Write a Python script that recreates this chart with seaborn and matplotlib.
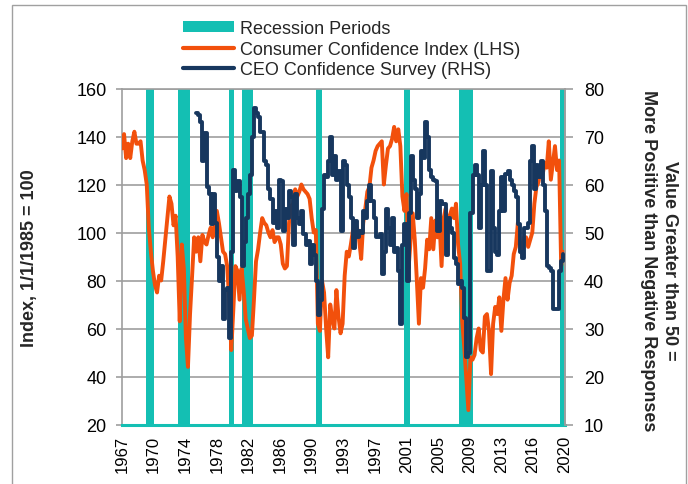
import numpy as np
import pandas as pd
import matplotlib
matplotlib.use("Agg")
import matplotlib.pyplot as plt
import seaborn as sns
from matplotlib.patches import Rectangle, Patch
from matplotlib.lines import Line2D

# ---------------- data ----------------
# Consumer Confidence Index (LHS), quarterly readings starting Q1 1967
cci = [
    135, 141, 131, 137,   # 1967
    131, 138, 142, 137,   # 1968
    137, 138, 130, 126,   # 1969
    120, 102, 92, 84,     # 1970
    78, 75, 82, 80,       # 1971
    88, 97, 106, 115,     # 1972
    112, 103, 107, 90,    # 1973
    63, 95, 85, 56,       # 1974
    44, 66, 82, 98,       # 1975
    92, 98, 88, 99,       # 1976
    96, 95, 99, 102,      # 1977
    98, 104, 109, 104,    # 1978
    98, 92, 91, 86,       # 1979
    72, 51, 68, 86,       # 1980
    84, 72, 85, 76,       # 1981
    64, 60, 56, 57,       # 1982
    72, 88, 93, 100,      # 1983
    106, 104, 103, 100,   # 1984
    98, 101, 96, 98,      # 1985
    98, 95, 87, 85,       # 1986
    86, 104, 111, 112,    # 1987
    118, 115, 117, 120,   # 1988
    118, 117, 116, 114,   # 1989
    106, 100, 101, 62,    # 1990
    59, 80, 75, 60,       # 1991
    48, 70, 64, 60,       # 1992
    76, 65, 58, 62,       # 1993
    82, 92, 90, 95,       # 1994
    101, 104, 102, 97,    # 1995
    89, 104, 110, 117,    # 1996
    119, 127, 130, 134,   # 1997
    136, 137, 138, 120,   # 1998
    128, 135, 136, 139,   # 1999
    144, 138, 143, 136,   # 2000
    115, 109, 116, 85,    # 2001
    97, 108, 97, 80,      # 2002
    62, 81, 77, 85,       # 2003
    97, 93, 106, 93,      # 2004
    105, 98, 104, 86,     # 2005
    106, 110, 100, 107,   # 2006
    110, 106, 112, 95,    # 2007
    87, 63, 52, 39,       # 2008
    26, 48, 47, 49,       # 2009
    56, 60, 51, 50,       # 2010
    65, 66, 59, 41,       # 2011
    62, 69, 66, 73,       # 2012
    59, 72, 81, 72,       # 2013
    79, 82, 91, 94,       # 2014
    104, 95, 91, 98,      # 2015
    98, 94, 97, 100,      # 2016
    112, 119, 121, 126,   # 2017
    124, 129, 127, 138,   # 2018
    122, 129, 136, 126,   # 2019
    130, 86, 92,          # 2020
]
cci_start = 1967.0

# CEO Confidence Survey (RHS), quarterly readings starting Q1 1976
ceo = [
    75, 74.5, 73, 65,         # 1976
    70.8, 59.4, 58, 51.7,     # 1977
    58, 52, 45, 40,           # 1978
    43, 32, 38, 38.5,         # 1979
    28, 46, 63, 58.7,         # 1980
    60.8, 57.3, 43, 48,       # 1981
    53, 58, 62, 70,           # 1982
    76, 75, 74, 71,           # 1983
    71, 65, 64, 59,           # 1984
    57, 52, 54.5, 51,         # 1985
    61, 60.8, 50.3, 55,       # 1986
    53, 58.7, 57.3, 47.5,     # 1987
    58, 53, 51.7, 54.5,       # 1988
    49.6, 47.5, 48.2, 43.4,   # 1989
    47.5, 45.4, 39.9, 32.9,   # 1990
    36, 55, 62, 61.5,         # 1991
    65, 70, 62, 66,           # 1992
    61, 62.8, 50.3, 65,       # 1993
    64, 60, 57.3, 53,         # 1994
    46.8, 52.4, 49, 50.3,     # 1995
    50, 54.5, 53, 56.6,       # 1996
    60, 56.6, 53, 49,         # 1997
    49, 49.6, 41.3, 46,       # 1998
    55, 51, 47.5, 53,         # 1999
    46, 46.8, 42, 31,         # 2000
    47.5, 51.7, 40, 54,       # 2001
    66, 61, 59, 53,           # 2002
    58, 67, 65.6, 73,         # 2003
    70, 63, 61.5, 61,         # 2004
    60.8, 50.3, 56.6, 56,     # 2005
    55.9, 45.4, 53.1, 51,     # 2006
    50, 44.7, 43.4, 39.2,     # 2007
    39.9, 38.5, 32.2, 24,     # 2008
    25, 54, 62, 64,           # 2009
    62, 51, 60, 67,           # 2010
    60, 42, 42, 62.8,         # 2011
    51, 46, 45.4, 54.5,       # 2012
    61.5, 54.5, 62.2, 62.8,   # 2013
    61, 60, 58.7, 57.3,       # 2014
    51.7, 46, 44.7, 51,       # 2015
    51, 52, 65, 68,           # 2016
    59, 64, 61.5, 65,         # 2017
    60, 54.5, 43, 42.7,       # 2018
    42, 34, 34, 34,           # 2019
    42, 44, 45.5,             # 2020
]
ceo_start = 1976.0

# Recession periods (decimal years)
rec_start = [1969.92, 1973.83, 1980.00, 1981.50, 1990.50, 2001.17, 2007.92, 2020.08]
rec_end = [1970.92, 1975.25, 1980.58, 1982.92, 1991.25, 2001.92, 2009.50, 2020.67]

# x tick labels (one tick every 46 months from Jan 1967)
xtick_labels = ["1967", "1970", "1974", "1978", "1982", "1986", "1990", "1993",
                "1997", "2001", "2005", "2009", "2013", "2016", "2020"]

legend_labels = ["Recession Periods", "Consumer Confidence Index (LHS)",
                 "CEO Confidence Survey (RHS)"]

# ---------------- style ----------------
ORANGE = "#F2500C"
NAVY = "#17375E"
TEAL = "#14BFB3"
GRID = "#9E9E9E"

sns.set_style("white")
plt.rcParams["font.family"] = ["Liberation Sans", "DejaVu Sans"]

df_cci = pd.DataFrame({"year": cci_start + np.arange(len(cci)) / 4.0, "value": cci})
df_ceo = pd.DataFrame({"year": ceo_start + np.arange(len(ceo)) / 4.0, "value": ceo})

fig = plt.figure(figsize=(6.88, 4.85), dpi=100)
L, R, T, B = 122, 564.6, 89.5, 425.5
ax = fig.add_axes([L / 688, 1 - B / 485, (R - L) / 688, (B - T) / 485])
ax.set_facecolor("none")

x_end = 1967 + 644 / 12.0
ax.set_xlim(1967, x_end)
ax.set_ylim(20, 160)
ax.set_yticks(range(20, 161, 20))
ax.set_axisbelow(True)
ax.yaxis.grid(True, color=GRID, lw=1.2)
ax.xaxis.grid(False)

for s, e in zip(rec_start, rec_end):
    ax.axvspan(s, e, color=TEAL, lw=0, zorder=1.5)

sns.lineplot(data=df_cci, x="year", y="value", ax=ax, color=ORANGE, lw=2.8, zorder=3)

xt = [1967 + 46 * k / 12.0 for k in range(len(xtick_labels))]
ax.set_xticks(xt)
ax.set_xticklabels(xtick_labels, rotation=90)
ax.tick_params(axis="x", direction="inout", length=7, width=1.2, color=GRID,
               labelsize=12, pad=4, labelcolor="black")
ax.tick_params(axis="y", direction="out", length=4, width=1.2, color=GRID,
               labelsize=13, pad=7, labelcolor="black")
ax.set_xlabel("")
ax.set_ylabel("")
for side in ["left", "right", "top"]:
    ax.spines[side].set_color(GRID)
    ax.spines[side].set_linewidth(1.2)
ax.spines["bottom"].set_color(TEAL)
ax.spines["bottom"].set_linewidth(2.2)

ax2 = ax.twinx()
ax2.set_ylim(10, 80)
ax2.set_yticks(range(10, 81, 10))
sns.lineplot(data=df_ceo, x="year", y="value", ax=ax2, color=NAVY, lw=2.8,
             drawstyle="steps-post", zorder=4)
ax2.set_xlim(1967, x_end)
ax2.tick_params(axis="y", direction="out", length=6, width=1.2, color=GRID,
                labelsize=13, pad=8, labelcolor="black")
ax2.set_ylabel("")
ax2.set_xlabel("")
for side in ["left", "top", "bottom"]:
    ax2.spines[side].set_visible(False)
ax2.spines["right"].set_color(GRID)
ax2.spines["right"].set_linewidth(1.2)

fig.text(29.5 / 688, 1 - 258 / 485, "Index, 1/1/1985 = 100", rotation=90,
         ha="center", va="center", fontsize=13, fontweight="bold")
fig.text(659 / 688, 1 - 261 / 485,
         "Value Greater than 50 =\nMore Positive than Negative Responses",
         rotation=270, ha="center", va="center", multialignment="center",
         fontsize=13, fontweight="bold", linespacing=1.25)

handles = [Patch(facecolor=TEAL, edgecolor="none"),
           Line2D([], [], color=ORANGE, lw=3),
           Line2D([], [], color=NAVY, lw=3)]
fig.legend(handles, legend_labels, loc="upper left",
           bbox_to_anchor=(183 / 688, 1 - 21 / 485), frameon=False, fontsize=13,
           handlelength=2.8, handleheight=0.5, handletextpad=0.35,
           labelspacing=0.2, borderpad=0, borderaxespad=0)

fig.add_artist(Rectangle((12 / 688, -0.1), (686 - 12) / 688, 1.1 - 6 / 485,
                         transform=fig.transFigure, fill=False,
                         edgecolor="#A0A0A0", lw=1.0))

fig.savefig("out.png", dpi=100)
